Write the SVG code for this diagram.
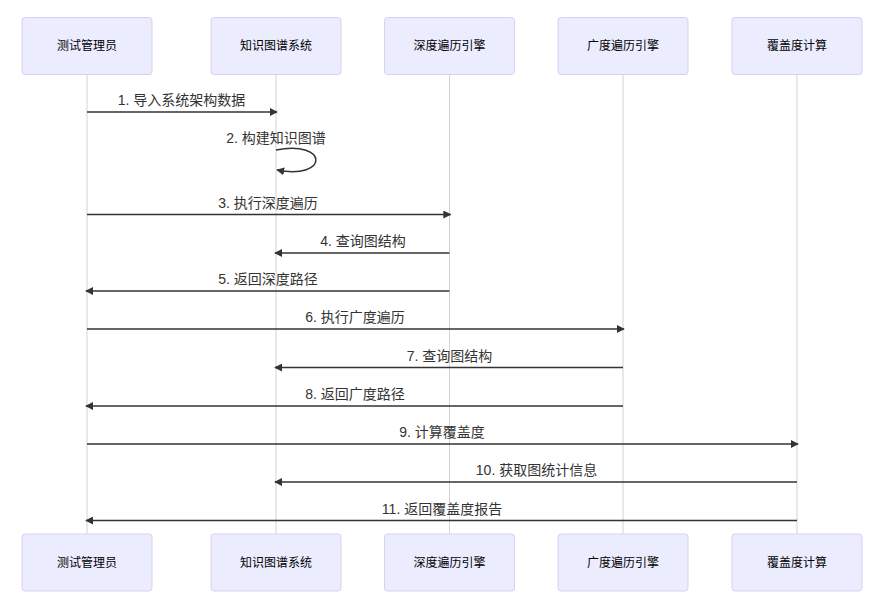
<svg xmlns="http://www.w3.org/2000/svg" width="886" height="608" viewBox="0 0 886 608">
<style>
.actor{fill:#ECECFF;stroke:#DACEF3;stroke-width:1}
.atext{font-family:"Liberation Sans","Noto Sans CJK SC",sans-serif;font-size:12px;fill:#000;text-anchor:middle;dominant-baseline:central}
.life{stroke:#d3d3d3;stroke-width:1}
.msg{stroke:#333;stroke-width:1.5;fill:none}
.mtext{font-family:"Liberation Sans","Noto Sans CJK SC",sans-serif;font-size:14px;fill:#333;text-anchor:middle}
</style>
<defs>
<marker id="arrow" viewBox="0 0 10 10" refX="9" refY="5" markerWidth="8" markerHeight="8" markerUnits="userSpaceOnUse" orient="auto-start-reverse">
<path d="M0,0 L10,5 L0,10 z" fill="#333"/>
</marker>
</defs>
<rect width="886" height="608" fill="#fff"/>
<g id="lifelines">
<line class="life" x1="87" y1="74" x2="87" y2="534"/>
<line class="life" x1="276" y1="74" x2="276" y2="534"/>
<line class="life" x1="449.5" y1="74" x2="449.5" y2="534"/>
<line class="life" x1="623" y1="74" x2="623" y2="534"/>
<line class="life" x1="797" y1="74" x2="797" y2="534"/>
</g>
<g id="actor-admin">
<rect class="actor" x="22" y="17.5" width="130" height="57" rx="3"/>
<text class="atext" x="87" y="46">测试管理员</text>
<rect class="actor" x="22" y="534" width="130" height="57" rx="3"/>
<text class="atext" x="87" y="563">测试管理员</text>
</g>
<g id="actor-kg">
<rect class="actor" x="211" y="17.5" width="130" height="57" rx="3"/>
<text class="atext" x="276" y="46">知识图谱系统</text>
<rect class="actor" x="211" y="534" width="130" height="57" rx="3"/>
<text class="atext" x="276" y="563">知识图谱系统</text>
</g>
<g id="actor-dfs">
<rect class="actor" x="384.5" y="17.5" width="130" height="57" rx="3"/>
<text class="atext" x="449.5" y="46">深度遍历引擎</text>
<rect class="actor" x="384.5" y="534" width="130" height="57" rx="3"/>
<text class="atext" x="449.5" y="563">深度遍历引擎</text>
</g>
<g id="actor-bfs">
<rect class="actor" x="558" y="17.5" width="130" height="57" rx="3"/>
<text class="atext" x="623" y="46">广度遍历引擎</text>
<rect class="actor" x="558" y="534" width="130" height="57" rx="3"/>
<text class="atext" x="623" y="563">广度遍历引擎</text>
</g>
<g id="actor-cov">
<rect class="actor" x="732" y="17.5" width="130" height="57" rx="3"/>
<text class="atext" x="797" y="46">覆盖度计算</text>
<rect class="actor" x="732" y="534" width="130" height="57" rx="3"/>
<text class="atext" x="797" y="563">覆盖度计算</text>
</g>
<g id="connectors">
<line class="msg" x1="87" y1="112" x2="277" y2="112" marker-end="url(#arrow)"/>
<text class="mtext" x="181.5" y="105">1. 导入系统架构数据</text>
<path class="msg" d="M276,150 C329,140 329,180 277,170" marker-end="url(#arrow)"/>
<text class="mtext" x="276" y="143">2. 构建知识图谱</text>
<line class="msg" x1="87" y1="214.5" x2="450.5" y2="214.5" marker-end="url(#arrow)"/>
<text class="mtext" x="268" y="207.5">3. 执行深度遍历</text>
<line class="msg" x1="449.5" y1="253" x2="275" y2="253" marker-end="url(#arrow)"/>
<text class="mtext" x="363" y="246">4. 查询图结构</text>
<line class="msg" x1="449.5" y1="291" x2="86" y2="291" marker-end="url(#arrow)"/>
<text class="mtext" x="268" y="284">5. 返回深度路径</text>
<line class="msg" x1="87" y1="329" x2="624" y2="329" marker-end="url(#arrow)"/>
<text class="mtext" x="355" y="322">6. 执行广度遍历</text>
<line class="msg" x1="623" y1="367.5" x2="275" y2="367.5" marker-end="url(#arrow)"/>
<text class="mtext" x="449.5" y="360.5">7. 查询图结构</text>
<line class="msg" x1="623" y1="406" x2="86" y2="406" marker-end="url(#arrow)"/>
<text class="mtext" x="355" y="399">8. 返回广度路径</text>
<line class="msg" x1="87" y1="444" x2="798" y2="444" marker-end="url(#arrow)"/>
<text class="mtext" x="442" y="437">9. 计算覆盖度</text>
<line class="msg" x1="797" y1="482" x2="275" y2="482" marker-end="url(#arrow)"/>
<text class="mtext" x="536.5" y="475">10. 获取图统计信息</text>
<line class="msg" x1="797" y1="520.5" x2="86" y2="520.5" marker-end="url(#arrow)"/>
<text class="mtext" x="442" y="513.5">11. 返回覆盖度报告</text>
</g>
</svg>
